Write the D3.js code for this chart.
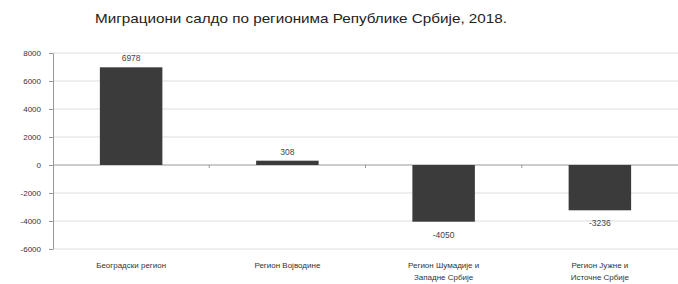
<!doctype html>
<html lang="sr">
<head>
<meta charset="utf-8">
<title>Миграциони салдо</title>
<style>
  body { margin: 0; background: #fff; }
  text { font-family: "Liberation Sans", Arial, sans-serif; }
</style>
</head>
<body>
<script src="https://cdnjs.cloudflare.com/ajax/libs/d3/7.8.5/d3.min.js"></script>
<script>
// data
var regions = [
  ["Београдски регион"],
  ["Регион Војводине"],
  ["Регион Шумадије и", "Западне Србије"],
  ["Регион Јужне и", "Источне Србије"]
];
var saldo = [6978, 308, -4050, -3236];
var yTicks = [-6000, -4000, -2000, 0, 2000, 4000, 6000, 8000];

var w = 678, h = 284;
var mLeft = 53, mRight = 678, mTop = 53, mBottom = 249;

var svg = d3.select("body").append("svg")
  .attr("width", w).attr("height", h);

var x = d3.scaleBand()
  .domain(d3.range(saldo.length))
  .range([mLeft, mRight])
  .paddingInner(0.6)
  .paddingOuter(0.3);

var y = d3.scaleLinear().domain([-6000, 8000]).range([mBottom, mTop]);

// title
svg.append("text")
  .attr("x", 301).attr("y", 23)
  .attr("text-anchor", "middle")
  .attr("font-size", 13)
  .attr("textLength", 412)
  .attr("lengthAdjust", "spacingAndGlyphs")
  .attr("fill", "#222")
  .text("Миграциони салдо по регионима Републике Србије, 2018.");

// gridlines
svg.append("g").selectAll("line")
  .data(yTicks)
  .enter().append("line")
  .attr("x1", mLeft).attr("x2", mRight)
  .attr("y1", function(d) { return y(d); })
  .attr("y2", function(d) { return y(d); })
  .attr("stroke", function(d) { return d === 0 ? "#999" : "#ddd"; })
  .attr("stroke-width", 1);

// small category ticks on the zero line
var step = x.step();
svg.append("g").selectAll("line")
  .data(d3.range(1, saldo.length))
  .enter().append("line")
  .attr("x1", function(i) { return x(i) - step * 0.3; })
  .attr("x2", function(i) { return x(i) - step * 0.3; })
  .attr("y1", y(0)).attr("y2", y(0) + 3)
  .attr("stroke", "#999");

// y axis
var yAxis = d3.axisLeft(y).tickValues(yTicks).tickSize(4).tickSizeOuter(0)
  .tickFormat(function(d) { return String(d); });
var ga = svg.append("g")
  .attr("transform", "translate(" + mLeft + ",0)")
  .call(yAxis);
ga.select(".domain").attr("stroke", "#999");
ga.selectAll(".tick line").attr("stroke", "#999");
ga.selectAll(".tick text")
  .attr("font-size", 8)
  .attr("fill", "#333")
  .attr("x", -12)
  .attr("font-family", "\"Liberation Sans\", Arial, sans-serif");

// bars
svg.append("g").selectAll("rect")
  .data(saldo)
  .enter().append("rect")
  .attr("x", function(d, i) { return x(i); })
  .attr("y", function(d) { return y(Math.max(0, d)); })
  .attr("width", x.bandwidth())
  .attr("height", function(d) { return Math.abs(y(d) - y(0)); })
  .attr("fill", "#3b3b3b");

// value labels
svg.append("g").selectAll("text")
  .data(saldo)
  .enter().append("text")
  .attr("x", function(d, i) { return x(i) + x.bandwidth() / 2; })
  .attr("y", function(d) { return d >= 0 ? y(d) - 6 : y(d) + 16; })
  .attr("text-anchor", "middle")
  .attr("font-size", 8.5)
  .attr("fill", "#444")
  .text(function(d) { return String(d); });

// category labels
var cl = svg.append("g").selectAll("text")
  .data(regions)
  .enter().append("text")
  .attr("text-anchor", "middle")
  .attr("font-size", 8)
  .attr("fill", "#333")
  .attr("transform", function(d, i) {
    return "translate(" + (x(i) + x.bandwidth() / 2) + ",268)";
  });
cl.selectAll("tspan")
  .data(function(d) { return d; })
  .enter().append("tspan")
  .attr("x", 0)
  .attr("dy", function(d, i) { return i ? 12 : 0; })
  .text(function(d) { return d; });
</script>
</body>
</html>
